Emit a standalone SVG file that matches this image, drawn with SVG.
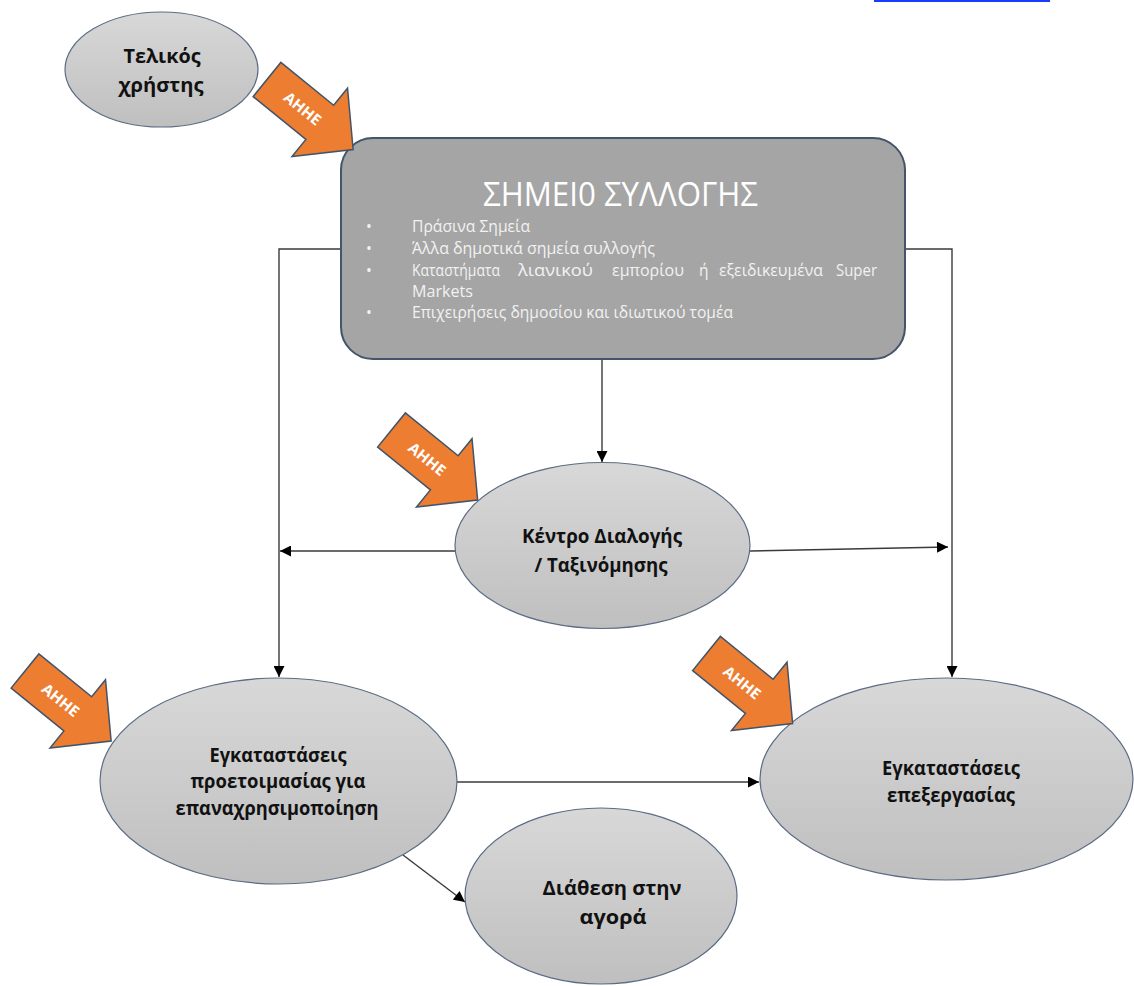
<svg xmlns="http://www.w3.org/2000/svg" width="1134" height="986" viewBox="0 0 1134 986">
<defs>
<linearGradient id="eg" x1="0" y1="0" x2="0" y2="1">
<stop offset="0" stop-color="#d8d8d8"/>
<stop offset="1" stop-color="#bfbfbf"/>
</linearGradient>
<marker id="ah" viewBox="0 0 12 12" refX="12" refY="6" markerWidth="12" markerHeight="11" markerUnits="userSpaceOnUse" orient="auto">
<path d="M0,0 L12,6 L0,12 z" fill="#000"/>
</marker>
<polygon id="ahhe-shape" points="0,-22 68,-22 68,-44 111,0 68,44 68,22 0,22"/>
</defs>
<style>
.ell{fill:url(#eg);stroke:#5b6d84;stroke-width:1.2}
.lbl{font-family:"Open Sans","Noto Sans","DejaVu Sans",sans-serif;font-weight:bold;font-size:19.5px;fill:#111;text-anchor:middle}
.box{fill:#a5a5a5;stroke:#44546a;stroke-width:2}
.title{font-family:"Open Sans","Noto Sans","DejaVu Sans",sans-serif;font-weight:normal;font-size:32px;fill:#fff}
.bl{font-family:"Open Sans","Noto Sans","DejaVu Sans",sans-serif;font-size:15.5px;fill:#f2f2f2}
.orange{fill:#ed7d31;stroke:#41546a;stroke-width:1.5}
.at{font-family:"Open Sans","Noto Sans","DejaVu Sans",sans-serif;font-weight:bold;font-size:15px;fill:#fff;text-anchor:middle}
.con{fill:none;stroke:#3a3a3a;stroke-width:1.4;marker-end:url(#ah)}
</style>
<rect x="874" y="0" width="176" height="2" fill="#1a3cff"/>

<g id="connectors">
<path class="con" d="M341,249 H279 V677"/>
<path class="con" d="M905,249 H952 V677"/>
<path class="con" d="M602,359 V462"/>
<path class="con" d="M455,551 H280"/>
<path class="con" d="M750,551 L948,547"/>
<path class="con" d="M455,782 H759"/>
<path class="con" d="M403,855 L465,902"/>
</g>

<g id="node-user">
<ellipse class="ell" cx="161.5" cy="69.5" rx="96.5" ry="57.5"/>
<text class="lbl" font-size="20" x="162" y="63" textLength="77" lengthAdjust="spacingAndGlyphs">Τελικός</text>
<text class="lbl" font-size="20" x="161" y="92" textLength="85" lengthAdjust="spacingAndGlyphs">χρήστης</text>
</g>

<g id="node-collection">
<rect class="box" x="341" y="138" width="564" height="221" rx="32" ry="32"/>
<text class="title" x="483" y="206" textLength="275" lengthAdjust="spacingAndGlyphs">ΣΗΜΕΙ0 ΣΥΛΛΟΓΗΣ</text>
<text class="bl" x="366" y="232">•</text>
<text class="bl" x="366" y="254">•</text>
<text class="bl" x="366" y="276">•</text>
<text class="bl" x="366" y="318">•</text>
<text class="bl" x="412" y="232" textLength="118" lengthAdjust="spacingAndGlyphs">Πράσινα Σημεία</text>
<text class="bl" x="412" y="254" textLength="243" lengthAdjust="spacingAndGlyphs">Άλλα δημοτικά σημεία συλλογής</text>
<text class="bl" x="412" y="276" textLength="88" lengthAdjust="spacingAndGlyphs">Καταστήματα</text>
<text class="bl" x="518" y="276" textLength="75" lengthAdjust="spacingAndGlyphs">λιανικού</text>
<text class="bl" x="612" y="276" textLength="72" lengthAdjust="spacingAndGlyphs">εμπορίου</text>
<text class="bl" x="699" y="276">ή</text>
<text class="bl" x="719" y="276" textLength="104" lengthAdjust="spacingAndGlyphs">εξειδικευμένα</text>
<text class="bl" x="836" y="276" textLength="41" lengthAdjust="spacingAndGlyphs">Super</text>
<text class="bl" x="412" y="297" textLength="61" lengthAdjust="spacingAndGlyphs">Markets</text>
<text class="bl" x="412" y="318" textLength="321" lengthAdjust="spacingAndGlyphs">Επιχειρήσεις δημοσίου και ιδιωτικού τομέα</text>
</g>

<g id="node-sorting">
<ellipse class="ell" cx="602.5" cy="545.5" rx="147.5" ry="83"/>
<text class="lbl" x="602" y="543" textLength="160" lengthAdjust="spacingAndGlyphs">Κέντρο Διαλογής</text>
<text class="lbl" x="601" y="572" textLength="133" lengthAdjust="spacingAndGlyphs">/ Ταξινόμησης</text>
</g>

<g id="node-reuse">
<ellipse class="ell" cx="278.5" cy="781" rx="178.5" ry="103"/>
<text class="lbl" x="278" y="762" textLength="137" lengthAdjust="spacingAndGlyphs">Εγκαταστάσεις</text>
<text class="lbl" x="278" y="788" textLength="175" lengthAdjust="spacingAndGlyphs">προετοιμασίας για</text>
<text class="lbl" x="277" y="815" textLength="203" lengthAdjust="spacingAndGlyphs">επαναχρησιμοποίηση</text>
</g>

<g id="node-processing">
<ellipse class="ell" cx="946.5" cy="779" rx="186.5" ry="101"/>
<text class="lbl" x="951" y="775" textLength="138" lengthAdjust="spacingAndGlyphs">Εγκαταστάσεις</text>
<text class="lbl" x="951" y="802" textLength="128" lengthAdjust="spacingAndGlyphs">επεξεργασίας</text>
</g>

<g id="node-market">
<ellipse class="ell" cx="601" cy="896" rx="136" ry="88"/>
<text class="lbl" x="612" y="895" textLength="139" lengthAdjust="spacingAndGlyphs">Διάθεση στην</text>
<text class="lbl" x="613" y="924" textLength="67" lengthAdjust="spacingAndGlyphs">αγορά</text>
</g>

<g id="ahhe-1" transform="translate(267,79.5) rotate(39.1)">
<use href="#ahhe-shape" class="orange"/>
<text class="at" x="46" y="5.5" textLength="43" lengthAdjust="spacingAndGlyphs">ΑΗΗΕ</text>
</g>
<g id="ahhe-2" transform="translate(391.5,430) rotate(39.1)">
<use href="#ahhe-shape" class="orange"/>
<text class="at" x="46" y="5.5" textLength="43" lengthAdjust="spacingAndGlyphs">ΑΗΗΕ</text>
</g>
<g id="ahhe-3" transform="translate(25,671) rotate(39.1)">
<use href="#ahhe-shape" class="orange"/>
<text class="at" x="46" y="5.5" textLength="43" lengthAdjust="spacingAndGlyphs">ΑΗΗΕ</text>
</g>
<g id="ahhe-4" transform="translate(706.5,653.5) rotate(39.1)">
<use href="#ahhe-shape" class="orange"/>
<text class="at" x="46" y="5.5" textLength="43" lengthAdjust="spacingAndGlyphs">ΑΗΗΕ</text>
</g>
</svg>
